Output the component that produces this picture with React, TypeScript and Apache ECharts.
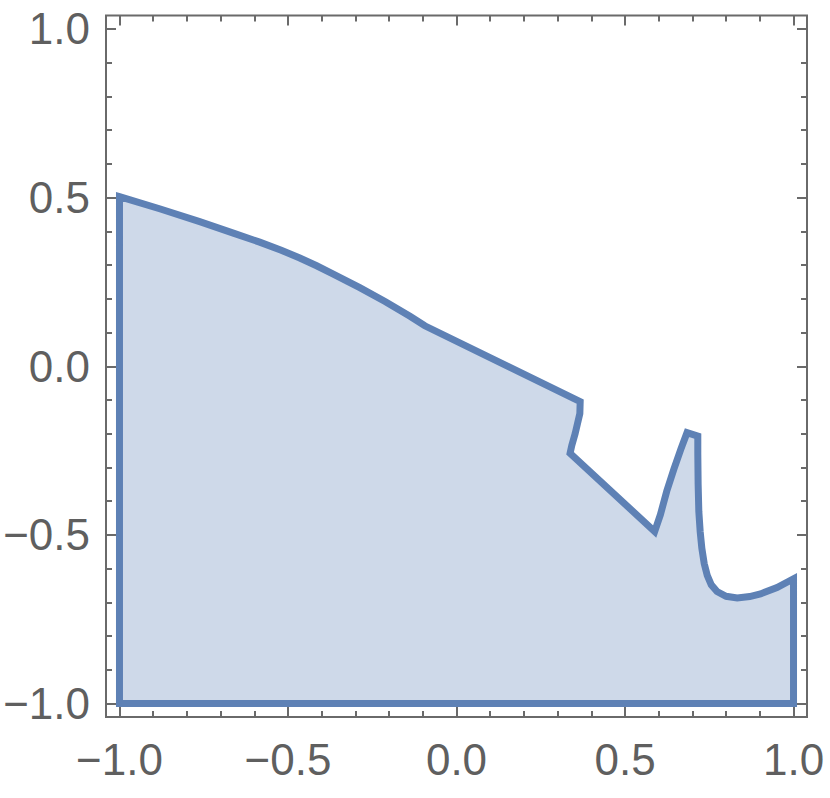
import React, { useEffect, useRef } from "react";
import * as echarts from "echarts";

// Region boundary (data coordinates)
const upperCurve: [number, number][] = [
  [-1, 0.503], [-0.881, 0.467], [-0.762, 0.429], [-0.66, 0.394], [-0.584, 0.368],
  [-0.52, 0.344], [-0.465, 0.321], [-0.415, 0.298], [-0.367, 0.274], [-0.287, 0.233],
  [-0.212, 0.192], [-0.138, 0.148], [-0.094, 0.12],
];
const notch: [number, number][] = [
  [0.367, -0.105], [0.366, -0.14], [0.352, -0.2], [0.342, -0.235], [0.337, -0.258],
];
const valleyPeak: [number, number][] = [
  [0.588, -0.49], [0.605, -0.44], [0.624, -0.37], [0.645, -0.305], [0.666, -0.245],
  [0.684, -0.197], [0.716, -0.207],
];
const trough: [number, number][] = [
  [0.716, -0.26], [0.717, -0.35], [0.719, -0.43], [0.723, -0.49], [0.728, -0.54],
  [0.735, -0.585], [0.744, -0.62], [0.756, -0.648], [0.773, -0.668], [0.8, -0.682],
  [0.833, -0.687], [0.87, -0.683], [0.902, -0.675], [0.951, -0.656], [1.0, -0.63],
];
const baseCorners: [number, number][] = [[1, -1], [-1, -1]];

const majorTicks = [-1, -0.5, 0, 0.5, 1];
const minorTicks = [-0.9, -0.8, -0.7, -0.6, -0.4, -0.3, -0.2, -0.1, 0.1, 0.2, 0.3, 0.4, 0.6, 0.7, 0.8, 0.9];
const axisMin = -1.04;
const axisMax = 1.04;

const boundary = [...upperCurve, ...notch, ...valleyPeak, ...trough, ...baseCorners];

const frameColor = "#6a6a6a";
const labelColor = "#5f5f5f";
const lineColor = "#5e81b5";

const fmt = (v: number) => (v < 0 ? "\u2212" + Math.abs(v).toFixed(1) : v.toFixed(1));

function makeAxis(kind: "x" | "y", position: string, ticks: number[], len: number, labels: boolean) {
  return {
    type: "value",
    position,
    min: axisMin,
    max: axisMax,
    axisLine: { show: false, onZero: false },
    splitLine: { show: false },
    axisTick: {
      show: true,
      inside: true,
      length: len,
      customValues: ticks,
      lineStyle: { color: frameColor, width: 2 },
    },
    axisLabel: labels
      ? {
          show: true,
          customValues: ticks,
          formatter: (v: number) => fmt(v),
          color: labelColor,
          fontSize: 44,
          fontFamily: "Liberation Sans, Arial, sans-serif",
          margin: kind === "x" ? 20 : 16,
        }
      : { show: false },
  };
}

export default function App() {
  const ref = useRef<HTMLDivElement>(null);
  useEffect(() => {
    if (!ref.current) return;
    const chart = echarts.init(ref.current, undefined, { renderer: "svg" });
    chart.setOption({
      animation: false,
      backgroundColor: "#ffffff",
      grid: {
        left: 106,
        top: 15.5,
        right: 23,
        bottom: 81,
        show: true,
        borderColor: frameColor,
        borderWidth: 2,
        backgroundColor: "transparent",
      },
      xAxis: [
        makeAxis("x", "bottom", majorTicks, 10, true),
        makeAxis("x", "bottom", minorTicks, 6, false),
        makeAxis("x", "top", majorTicks, 10, false),
        makeAxis("x", "top", minorTicks, 6, false),
      ],
      yAxis: [
        makeAxis("y", "left", majorTicks, 10, true),
        makeAxis("y", "left", minorTicks, 6, false),
        makeAxis("y", "right", majorTicks, 10, false),
        makeAxis("y", "right", minorTicks, 6, false),
      ],
      series: [
        {
          type: "custom",
          xAxisIndex: 0,
          yAxisIndex: 0,
          clip: false,
          data: [0],
          renderItem: (params: any, api: any) => {
            const pts = boundary.map((p) => api.coord(p));
            return {
              type: "polygon",
              shape: { points: pts },
              style: {
                fill: "rgba(94,129,181,0.3)",
                stroke: lineColor,
                lineWidth: 7,
                lineJoin: "miter",
                miterLimit: 10,
              },
            };
          },
        },
      ],
    });
    return () => chart.dispose();
  }, []);
  return (
    <div
      ref={ref}
      style={{ position: "fixed", left: 0, top: 0, width: 830, height: 798, background: "#fff" }}
    />
  );
}
